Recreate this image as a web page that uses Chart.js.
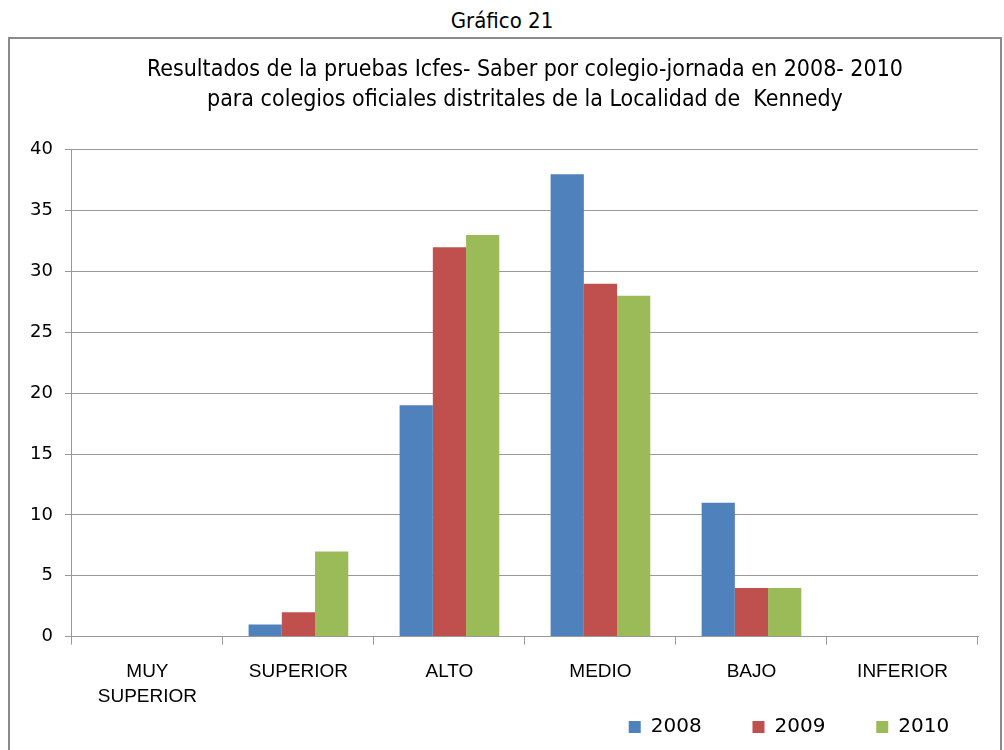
<!DOCTYPE html>
<html>
<head>
<meta charset="utf-8">
<script src="https://cdn.jsdelivr.net/npm/chart.js@4"></script>
<style>
html,body{margin:0;padding:0;background:#fff;width:1004px;height:750px;overflow:hidden;}
#head{position:absolute;left:0;top:8px;width:1004px;text-align:center;font-family:"Liberation Sans Narrow","DejaVu Sans Condensed",sans-serif;font-size:22px;color:#000;}
#box{position:absolute;left:8px;top:37px;width:990px;height:730px;border:2px solid #8a8a8a;background:#fff;}
#wrap{position:absolute;left:0;top:0;width:990px;height:708px;}
</style>
</head>
<body>
<div id="head">Gráfico 21</div>
<div id="box"><div id="wrap"><canvas id="c"></canvas></div></div>
<script>
const categories = [["MUY","SUPERIOR"], "SUPERIOR", "ALTO", "MEDIO", "BAJO", "INFERIOR"];
const seriesNames = ["2008", "2009", "2010"];
const values2008 = [0, 1, 19, 38, 11, 0];
const values2009 = [0, 2, 32, 29, 4, 0];
const values2010 = [0, 7, 33, 28, 4, 0];
const titleLines = ["Resultados de la pruebas Icfes- Saber por colegio-jornada en 2008- 2010", "para colegios oficiales distritales de la Localidad de  Kennedy"];

const NARROW = '"Liberation Sans Narrow","DejaVu Sans Condensed",sans-serif';
const colors = ["#4F81BD", "#C0504D", "#9BBB59"];
const allValues = [values2008, values2009, values2010];
const LEGEND_GAP = '\u00A0'.repeat(8);

new Chart(document.getElementById('c'), {
  type: 'bar',
  data: {
    labels: categories,
    datasets: seriesNames.map((n, i) => ({
      label: n,
      data: allValues[i],
      backgroundColor: colors[i],
      borderWidth: 0,
      categoryPercentage: 0.66,
      barPercentage: 1.0,
      yAxisID: 'y'
    }))
  },
  options: {
    responsive: true,
    maintainAspectRatio: false,
    animation: false,
    layout: { padding: { left: 8, right: 0, top: 16, bottom: 0 } },
    plugins: {
      title: {
        display: true,
        fullSize: false,
        text: titleLines,
        color: '#000',
        font: { family: NARROW, size: 23, weight: 'normal', lineHeight: 1.3 },
        padding: { top: 0, bottom: 35 }
      },
      legend: {
        display: true,
        position: 'bottom',
        align: 'end',
        fullSize: true,
        labels: {
          color: '#000',
          font: { family: '"DejaVu Sans",sans-serif', size: 20 },
          boxWidth: 12,
          boxHeight: 12,
          padding: 0,
          useBorderRadius: false,
          generateLabels: (chart) => {
            const items = Chart.defaults.plugins.legend.labels.generateLabels(chart);
            items.forEach(it => { it.text = it.text + LEGEND_GAP; });
            return items;
          }
        }
      },
      tooltip: { enabled: false }
    },
    scales: {
      x: {
        grid: { display: true, drawOnChartArea: false, drawTicks: true, tickLength: 8, color: '#999', offset: true },
        border: { display: true, color: '#999', width: 1 },
        ticks: { color: '#000', font: { family: '"Liberation Sans",sans-serif', size: 19, lineHeight: 1.3 }, padding: 15, maxRotation: 0, autoSkip: false },
        afterFit: (s) => { s.height -= 7; }
      },
      y: {
        min: 0, max: 40,
        grid: { color: '#999', drawTicks: true, tickLength: 7 },
        border: { display: true, color: '#999', width: 1 },
        ticks: { stepSize: 5, color: '#000', font: { family: '"DejaVu Sans",sans-serif', size: 18 }, padding: 12 }
      },
      yRight: {
        type: 'linear',
        position: 'right',
        display: true,
        grid: { display: false, drawOnChartArea: false },
        border: { display: false },
        ticks: { display: false },
        afterFit: (s) => { s.width = 22; }
      }
    }
  }
});
</script>
</body>
</html>
